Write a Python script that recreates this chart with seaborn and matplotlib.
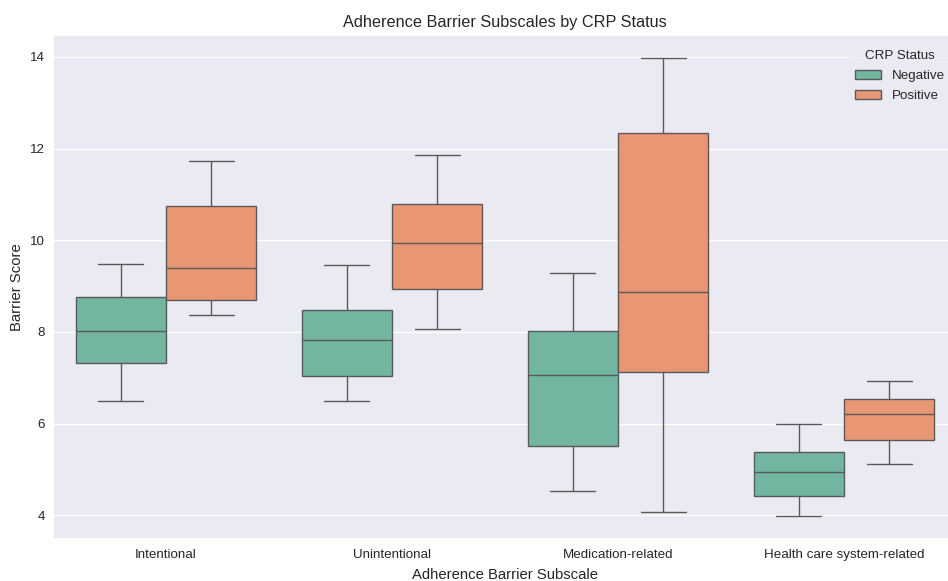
import pandas as pd
import matplotlib.pyplot as plt
import seaborn as sns

# five-number summaries (min, Q1, median, Q3, max)
subscales = ['Intentional', 'Unintentional', 'Medication-related', 'Health care system-related']
negative = [
    [6.49, 7.32, 8.02, 8.76, 9.48],
    [6.49, 7.03, 7.82, 8.48, 9.46],
    [4.52, 5.51, 7.06, 8.02, 9.28],
    [3.98, 4.41, 4.94, 5.38, 5.99],
]
positive = [
    [8.37, 8.69, 9.39, 10.75, 11.73],
    [8.06, 8.93, 9.94, 10.79, 11.86],
    [4.07, 7.12, 8.87, 12.34, 13.98],
    [5.11, 5.64, 6.21, 6.53, 6.93],
]

rows = []
for name, neg, pos in zip(subscales, negative, positive):
    for v in neg:
        rows.append((name, 'Negative', v))
    for v in pos:
        rows.append((name, 'Positive', v))
df = pd.DataFrame(rows, columns=['Subscale', 'CRP Status', 'Score'])

sns.set_theme(style='darkgrid')
plt.rcParams['font.family'] = ['Liberation Sans', 'DejaVu Sans']

fig = plt.figure(figsize=(9.48, 5.81), dpi=100)
ax = fig.add_axes([53 / 948, 42 / 581, 904 / 948, 504 / 581])

sns.boxplot(data=df, x='Subscale', y='Score', hue='CRP Status',
            hue_order=['Negative', 'Positive'], palette='Set2', ax=ax)

ax.set_title('Adherence Barrier Subscales by CRP Status', fontsize=11.7)
ax.set_xlabel('Adherence Barrier Subscale', fontsize=10.7, labelpad=4.5)
ax.set_ylabel('Barrier Score', fontsize=10.7, labelpad=4)
ax.tick_params(axis='x', labelsize=9.6, length=0, pad=7.5)
ax.tick_params(axis='y', labelsize=9.6, length=0, pad=6)
leg = ax.legend(title='CRP Status', loc='upper right', bbox_to_anchor=(1, 0.995),
                fontsize=9.6, title_fontsize=9.6, labelspacing=0.6)
leg.get_frame().set_edgecolor('none')

plt.savefig('out.png', dpi=100)
plt.close()
